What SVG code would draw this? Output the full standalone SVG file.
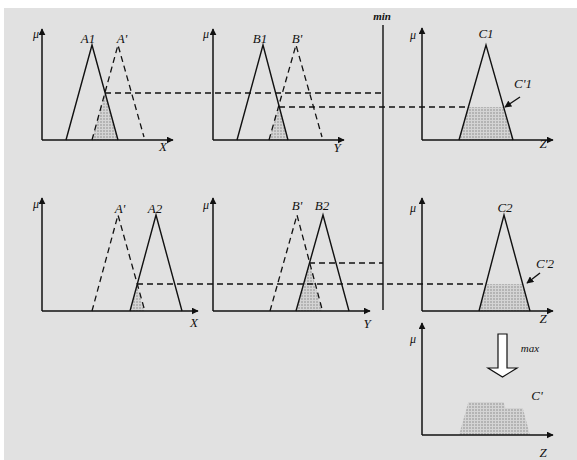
<svg xmlns="http://www.w3.org/2000/svg" width="577" height="460" viewBox="0 0 577 460">
<defs>
<style>
.ax{stroke:#111;stroke-width:1.5;fill:none;marker-end:url(#ah)}
.sol{stroke:#111;stroke-width:1.4;fill:none;stroke-linejoin:miter}
.dsh{stroke:#111;stroke-width:1.3;fill:none;stroke-dasharray:6 4}
.sh{fill:url(#grid);stroke:none}
.lb{font-family:"Liberation Serif",serif;font-style:italic;font-size:13px;fill:#111;text-anchor:middle}
.mu{font-family:"Liberation Serif",serif;font-style:italic;font-size:12px;fill:#111;text-anchor:end}
.sm{font-family:"Liberation Serif",serif;font-style:italic;font-size:11px;fill:#111;text-anchor:middle}
</style>
<marker id="ah" viewBox="0 0 10 10" refX="9" refY="5" markerWidth="7" markerHeight="7" markerUnits="userSpaceOnUse" orient="auto">
<path d="M0,0 L10,5 L0,10 Z" fill="#111"/>
</marker>
<marker id="ah2" viewBox="0 0 10 10" refX="9" refY="5" markerWidth="7" markerHeight="7" markerUnits="userSpaceOnUse" orient="auto">
<path d="M0,0 L10,5 L0,10 Z" fill="#111"/>
</marker>
<pattern id="grid" width="3" height="3" patternUnits="userSpaceOnUse">
<rect width="3" height="3" fill="#b4b4b4"/>
<path d="M0,0.5 H3 M0.5,0 V3" stroke="#d4d4d4" stroke-width="1"/>
</pattern>
</defs>
<rect x="0" y="0" width="577" height="460" fill="#ffffff"/>
<rect x="4" y="8" width="573" height="452" fill="#e1e1e1"/>

<g id="panel-A1">
<path class="sh" d="M92,140 L105,92.5 L118,140 Z"/>
<line class="ax" x1="42" y1="140" x2="42" y2="29"/>
<line class="ax" x1="42" y1="140" x2="173" y2="140"/>
<text class="mu" x="39" y="38">μ</text>
<polyline class="sol" points="66,140 92,45 118,140"/>
<polyline class="dsh" points="92,140 118,45 144,137"/>
<text class="lb" x="88" y="43">A1</text>
<text class="lb" x="122" y="43">A'</text>
<text class="lb" x="163" y="151">X</text>
</g>

<g id="panel-B1">
<path class="sh" d="M269,140 L279,105.3 L288,140 Z"/>
<line class="ax" x1="213" y1="140" x2="213" y2="29"/>
<line class="ax" x1="213" y1="140" x2="344" y2="140"/>
<text class="mu" x="209" y="38">μ</text>
<polyline class="sol" points="237,140 263,45 288,140"/>
<polyline class="dsh" points="269,140 296,45 322,137"/>
<text class="lb" x="260" y="43">B1</text>
<text class="lb" x="297" y="43">B'</text>
<text class="lb" x="337" y="152">Y</text>
</g>

<g id="panel-C1">
<path class="sh" d="M459,140 L468.4,107 L503.6,107 L513,140 Z"/>
<line class="ax" x1="422" y1="140" x2="422" y2="28"/>
<line class="ax" x1="422" y1="140" x2="553" y2="140"/>
<text class="mu" x="416" y="39">μ</text>
<polyline class="sol" points="459,140 486,45 513,140"/>
<text class="lb" x="486" y="38">C1</text>
<text class="lb" x="523" y="88">C'1</text>
<line class="sol" x1="520" y1="97" x2="505" y2="107" marker-end="url(#ah2)"/>
<text class="lb" x="543" y="148">Z</text>
</g>

<g id="panel-A2">
<path class="sh" d="M130,311 L137,285 L144,311 Z"/>
<line class="ax" x1="42" y1="311" x2="42" y2="198"/>
<line class="ax" x1="42" y1="311" x2="198" y2="311"/>
<text class="mu" x="39" y="208">μ</text>
<polyline class="dsh" points="92,311 118,215 144,308"/>
<polyline class="sol" points="130,311 156,215 182,311"/>
<text class="lb" x="120" y="213">A'</text>
<text class="lb" x="155" y="213">A2</text>
<text class="lb" x="194" y="327">X</text>
</g>

<g id="panel-B2">
<path class="sh" d="M296,311 L309.5,263 L322,311 Z"/>
<line class="ax" x1="213" y1="311" x2="213" y2="198"/>
<line class="ax" x1="213" y1="311" x2="370" y2="311"/>
<text class="mu" x="209" y="209">μ</text>
<polyline class="dsh" points="270,311 297,215 322,309"/>
<polyline class="sol" points="296,311 323,215 349,311"/>
<text class="lb" x="297" y="210">B'</text>
<text class="lb" x="322" y="210">B2</text>
<text class="lb" x="367" y="328">Y</text>
</g>

<g id="panel-C2">
<path class="sh" d="M479,311 L486,284 L522.7,284 L530,311 Z"/>
<line class="ax" x1="422" y1="311" x2="422" y2="198"/>
<line class="ax" x1="422" y1="311" x2="553" y2="311"/>
<text class="mu" x="416" y="212">μ</text>
<polyline class="sol" points="479,311 504,215 530,311"/>
<text class="lb" x="505" y="212">C2</text>
<text class="lb" x="545" y="268">C'2</text>
<line class="sol" x1="540" y1="273" x2="527" y2="283" marker-end="url(#ah2)"/>
<text class="lb" x="543" y="323">Z</text>
</g>

<g id="panel-C">
<path class="sh" d="M459,435 L468.4,402 L503.6,402 L505.3,408 L522.7,408 L530,435 Z"/>
<line class="ax" x1="422" y1="435" x2="422" y2="323"/>
<line class="ax" x1="422" y1="435" x2="553" y2="435"/>
<text class="mu" x="416" y="343">μ</text>
<text class="lb" x="537" y="400">C'</text>
<text class="lb" x="543" y="457">Z</text>
</g>

<g id="max-arrow">
<polygon points="498,334 507,334 507,368 517,368 502.5,377 488,368 498,368" fill="#ffffff" stroke="#111" stroke-width="1.2"/>
<text class="sm" x="530" y="352">max</text>
</g>

<g id="connectors">
<line class="sol" x1="383" y1="25" x2="383" y2="310"/>
<text class="sm" x="382" y="20" font-size="10" font-weight="bold">min</text>
<line class="dsh" x1="105" y1="93" x2="383" y2="93"/>
<line class="dsh" x1="279" y1="107" x2="468" y2="107"/>
<line class="dsh" x1="309" y1="263" x2="383" y2="263"/>
<line class="dsh" x1="137" y1="284" x2="486" y2="284"/>
</g>
</svg>
